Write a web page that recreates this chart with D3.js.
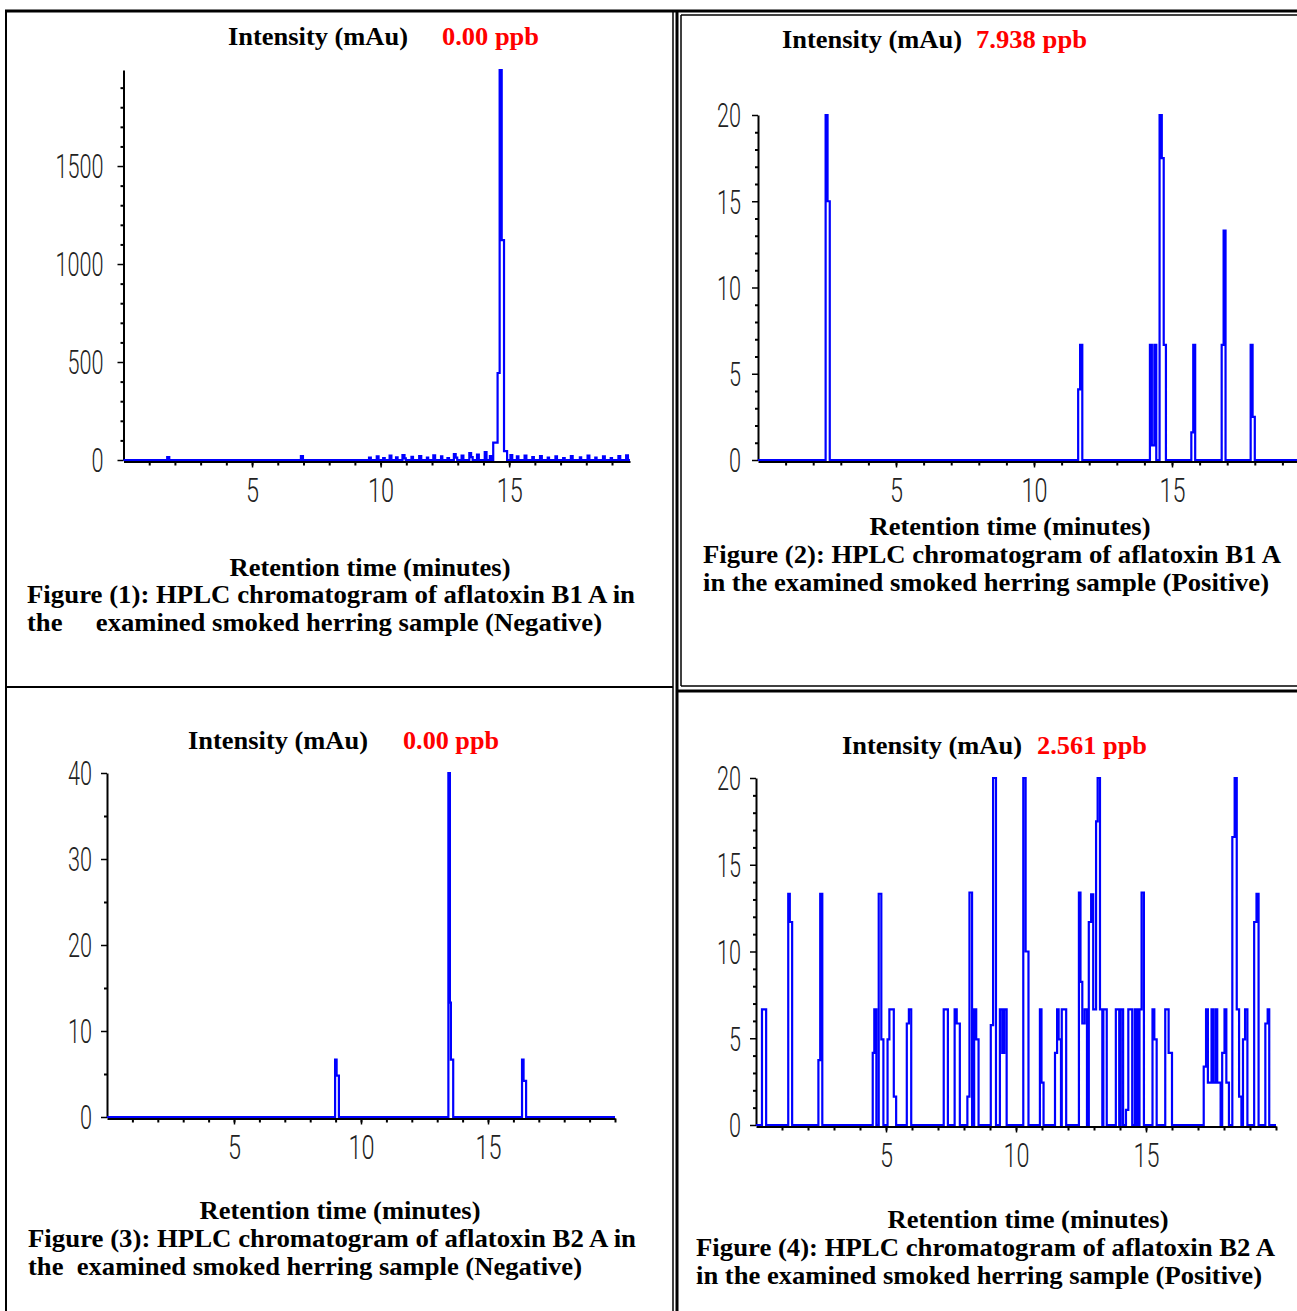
<!DOCTYPE html>
<html>
  <head>
    <meta charset="utf-8">
    <title>HPLC chromatograms of aflatoxin B1 / B2</title>
    <script src="https://d3js.org/d3.v7.min.js"></script>
    <style>
      body { margin: 0; background: #fff; }
      svg { display: block; }
      .serif { font-family: "Liberation Serif", "Times New Roman", serif; font-weight: bold; font-size: 25px; white-space: pre; }
      .tickText { font-family: Roboto, "DejaVu Sans", sans-serif; font-weight: 300; font-size: 34px; fill: #222; }
      .frame { stroke: #000; fill: none; }
    </style>
  </head>
  <body>
    <svg id="svg" width="1297" height="1311"></svg>
    <script>
      // ---- data: [retention time (min), intensity (mAu)]
      var fig1Data = [
        [0, 0], [1.70, 15], [1.78, 0], [6.90, 20], [6.98, 0],
        [9.55, 12], [9.62, 0], [9.85, 18], [9.92, 0], [10.10, 10], [10.16, 0],
        [10.35, 22], [10.42, 0], [10.60, 14], [10.66, 0], [10.85, 25], [10.93, 8], [10.98, 0],
        [11.20, 16], [11.26, 0], [11.50, 20], [11.58, 0], [11.80, 12], [11.85, 0],
        [12.05, 24], [12.12, 0], [12.35, 18], [12.40, 0], [12.60, 10], [12.66, 0],
        [12.85, 30], [12.92, 12], [12.98, 0], [13.15, 22], [13.22, 0],
        [13.45, 35], [13.52, 15], [13.58, 0], [13.75, 28], [13.82, 0],
        [14.05, 40], [14.12, 0], [14.25, 20], [14.30, 0],
        [14.38, 89], [14.55, 444], [14.63, 1990], [14.71, 1122], [14.80, 45], [14.92, 0],
        [15.05, 25], [15.12, 0], [15.30, 18], [15.36, 0], [15.60, 22], [15.67, 0],
        [15.90, 15], [15.96, 0], [16.20, 20], [16.27, 0], [16.50, 12], [16.55, 0],
        [16.80, 18], [16.86, 0], [17.10, 10], [17.16, 0], [17.40, 20], [17.47, 0],
        [17.75, 14], [17.80, 0], [18.05, 22], [18.12, 0], [18.35, 12], [18.40, 0],
        [18.65, 18], [18.72, 0], [18.95, 10], [19.00, 0], [19.25, 20], [19.32, 0],
        [19.55, 24], [19.62, 0], [19.70, 0]
      ];
      var fig2Data = [
        [0, 0], [2.45, 20], [2.52, 15], [2.60, 0],
        [11.60, 4.1], [11.67, 6.67], [11.75, 0],
        [14.20, 6.67], [14.27, 0.85], [14.36, 6.67], [14.43, 0],
        [14.55, 20], [14.63, 17.5], [14.70, 6.67], [14.78, 0],
        [15.70, 1.6], [15.77, 6.67], [15.84, 0],
        [16.80, 6.67], [16.87, 13.3], [16.94, 0],
        [17.85, 6.67], [17.92, 2.5], [18.00, 0], [20, 0]
      ];
      var fig3Data = [
        [0, 0], [8.98, 6.67], [9.04, 4.8], [9.13, 0],
        [13.44, 40], [13.50, 13.3], [13.54, 6.67], [13.63, 0],
        [16.34, 6.67], [16.40, 4.2], [16.50, 0], [20, 0]
      ];
      var fig4Data = [
        [0, 0], [0.23, 6.67], [0.39, 0],
        [1.24, 13.33], [1.30, 11.7], [1.39, 0],
        [2.40, 3.74], [2.47, 13.33], [2.55, 0],
        [4.49, 4.16], [4.55, 6.67], [4.63, 0], [4.72, 13.33], [4.82, 4.93], [4.90, 0],
        [5.06, 4.93], [5.13, 6.67], [5.30, 1.63], [5.39, 0],
        [5.80, 5.85], [5.88, 6.67], [5.97, 0],
        [7.22, 6.67], [7.38, 0],
        [7.64, 6.67], [7.72, 5.85], [7.84, 0],
        [8.13, 1.63], [8.21, 13.4], [8.31, 0], [8.39, 6.67], [8.47, 4.93], [8.56, 0],
        [9.03, 5.76], [9.12, 20], [9.23, 0], [9.38, 6.67], [9.47, 4.16], [9.55, 6.67], [9.64, 0],
        [10.28, 20], [10.37, 10], [10.48, 0],
        [10.92, 6.67], [10.98, 2.44], [11.06, 0],
        [11.50, 4.16], [11.58, 6.67], [11.64, 4.93], [11.73, 0], [11.76, 6.67], [11.93, 0],
        [12.42, 13.4], [12.48, 8.25], [12.55, 5.85], [12.64, 6.67], [12.73, 0],
        [12.80, 11.7], [12.89, 13.3], [12.97, 6.67], [13.08, 17.5], [13.14, 20], [13.23, 6.67],
        [13.32, 0], [13.36, 6.67], [13.49, 0],
        [13.84, 6.67], [13.97, 0], [14.03, 6.67], [14.12, 0], [14.23, 0.87], [14.32, 6.67], [14.47, 0],
        [14.57, 6.67], [14.64, 0], [14.66, 6.67], [14.73, 0], [14.75, 6.67], [14.83, 13.4], [14.92, 0],
        [15.25, 6.67], [15.32, 4.93], [15.41, 0],
        [15.74, 6.67], [15.87, 4.16], [16.00, 0],
        [17.22, 3.36], [17.31, 6.67], [17.38, 2.44], [17.52, 6.67], [17.58, 2.44], [17.67, 6.67],
        [17.74, 2.44], [17.87, 0], [17.93, 4.16], [18.02, 6.67], [18.09, 2.44], [18.19, 0],
        [18.32, 16.6], [18.41, 20], [18.49, 6.67], [18.58, 1.63], [18.67, 0],
        [18.73, 4.93], [18.81, 6.67], [18.90, 0],
        [19.16, 11.7], [19.25, 13.33], [19.33, 0],
        [19.59, 5.85], [19.68, 6.67], [19.74, 0], [20, 0]
      ];
      // tick labels
      var xTicks = [5, 10, 15];
      var fig1YTicks = [0, 500, 1000, 1500];
      var fig2YTicks = [0, 5, 10, 15, 20];
      var fig3YTicks = [0, 10, 20, 30, 40];
      var fig4YTicks = [0, 5, 10, 15, 20];
      // texts
      var concentrations = ["0.00 ppb", "7.938 ppb", "0.00 ppb", "2.561 ppb"];
      var captions = [
        ["Figure (1): HPLC chromatogram of aflatoxin B1 A in", "the     examined smoked herring sample (Negative)"],
        ["Figure (2): HPLC chromatogram of aflatoxin B1 A", "in the examined smoked herring sample (Positive)"],
        ["Figure (3): HPLC chromatogram of aflatoxin B2 A in", "the  examined smoked herring sample (Negative)"],
        ["Figure (4): HPLC chromatogram of aflatoxin B2 A", "in the examined smoked herring sample (Positive)"]
      ];

      // ---- layout of the four panels
      var panels = [
        { data: fig1Data, yTicks: fig1YTicks, yMinor: 100, xMax: 19.7, yMax: 1990,
          x0: 123.5, x1: 630, yTop: 70, yBase: 460, labelGap: 20,
          titleX: 228, titleY: 45, concX: 442, concW: 97, rtX: 370, rtY: 576,
          capX: 27, capY: 603, capW: [608, 575] },
        { data: fig2Data, yTicks: fig2YTicks, yMinor: 1, xMax: 20, yMax: 20,
          x0: 758, x1: 1310, yTop: 115, yBase: 460, labelGap: 17,
          titleX: 782, titleY: 48, concX: 976, concW: 111, rtX: 1010, rtY: 535,
          capX: 703, capY: 563, capW: [578, 566] },
        { data: fig3Data, yTicks: fig3YTicks, yMinor: 5, xMax: 20, yMax: 40,
          x0: 107, x1: 615, yTop: 773, yBase: 1117, labelGap: 15,
          titleX: 188, titleY: 749, concX: 403, concW: 96, rtX: 340, rtY: 1219,
          capX: 28, capY: 1247, capW: [608, 554] },
        { data: fig4Data, yTicks: fig4YTicks, yMinor: 1, xMax: 20, yMax: 20,
          x0: 756, x1: 1276, yTop: 778, yBase: 1125, labelGap: 15,
          titleX: 842, titleY: 754, concX: 1037, concW: 110, rtX: 1028, rtY: 1228,
          capX: 696, capY: 1256, capW: [579, 566] }
      ];

      var svg = d3.select("#svg");

      // table frame
      var frame = svg.append("g");
      function seg(x1, y1, x2, y2, w) {
        frame.append("line").attr("class", "frame")
          .attr("x1", x1).attr("y1", y1).attr("x2", x2).attr("y2", y2)
          .attr("stroke-width", w);
      }
      seg(5, 11, 1297, 11, 3);
      seg(6, 11, 6, 1311, 2);
      seg(673, 11, 673, 1311, 1.5);
      seg(6, 687, 673, 687, 2);
      seg(677, 11, 677, 1311, 3);
      seg(681, 15, 681, 686, 1.5);
      seg(681, 15, 1297, 15, 1.5);
      seg(681, 686, 1297, 686, 1.5);
      seg(677, 691, 1297, 691, 3);

      // squeeze text to the width it has in the figure
      function fitText(sel, w) {
        sel.attr("textLength", w).attr("lengthAdjust", "spacingAndGlyphs");
      }

      panels.forEach(function(p, i) {
        var g = svg.append("g");
        var x = d3.scaleLinear().domain([0, p.xMax]).range([p.x0, p.x1]);
        var y = d3.scaleLinear().domain([0, p.yMax]).range([p.yBase, p.yTop]);

        // y axis: minor then major
        var yMinorVals = d3.range(0, p.yMax + 1e-6, p.yMinor).filter(function(v) { return p.yTicks.indexOf(v) < 0; });
        g.append("g").attr("transform", "translate(" + p.x0 + ",0)")
          .call(d3.axisLeft(y).tickValues(yMinorVals).tickSize(3).tickSizeOuter(0).tickFormat(""))
          .call(function(a) { a.select(".domain").remove(); a.selectAll("line").attr("stroke-width", 2); });
        var yAx = g.append("g").attr("transform", "translate(" + p.x0 + ",0)")
          .call(d3.axisLeft(y).tickValues(p.yTicks).tickSize(6).tickSizeOuter(0).tickFormat(d3.format("d")));
        yAx.attr("font-size", null).attr("font-family", null);
        yAx.select(".domain").attr("stroke-width", 2);
        yAx.selectAll("line").attr("stroke-width", 1.5);
        yAx.selectAll("text")
          .attr("class", "tickText")
          .attr("x", -p.labelGap).attr("dy", "0.35em")
          .each(function(d) { fitText(d3.select(this), String(d).length * 12); });

        // x axis
        g.append("g").attr("transform", "translate(0," + (p.yBase + 1.5) + ")")
          .call(d3.axisBottom(x).tickValues(d3.range(1, Math.floor(p.xMax) + 1)).tickSize(4).tickSizeOuter(0).tickFormat(""))
          .call(function(a) { a.select(".domain").remove(); a.selectAll("line").attr("stroke-width", 2); });
        var xAx = g.append("g").attr("transform", "translate(0," + (p.yBase + 1.5) + ")")
          .call(d3.axisBottom(x).tickValues(xTicks).tickSize(6).tickSizeOuter(0));
        xAx.attr("font-size", null).attr("font-family", null);
        xAx.select(".domain").attr("stroke-width", 2);
        xAx.selectAll("line").attr("stroke-width", 1.5);
        xAx.selectAll("text")
          .attr("class", "tickText")
          .attr("y", 29).attr("dy", "0.35em")
          .each(function(d) { fitText(d3.select(this), String(d).length * 13); });

        // chromatogram trace
        var line = d3.line()
          .curve(d3.curveStepAfter)
          .x(function(d) { return x(d[0]); })
          .y(function(d) { return y(d[1]); });
        g.append("path")
          .datum(p.data)
          .attr("d", line)
          .attr("fill", "none")
          .attr("stroke", "#0000ff")
          .attr("stroke-width", 2.2)
          .attr("stroke-linejoin", "miter");

        // texts
        fitText(g.append("text").attr("class", "serif").attr("x", p.titleX).attr("y", p.titleY)
          .text("Intensity (mAu)"), 180);
        fitText(g.append("text").attr("class", "serif").attr("x", p.concX).attr("y", p.titleY)
          .attr("fill", "#ff0000").text(concentrations[i]), p.concW);
        fitText(g.append("text").attr("class", "serif").attr("x", p.rtX).attr("y", p.rtY)
          .attr("text-anchor", "middle").text("Retention time (minutes)"), 281);
        captions[i].forEach(function(s, k) {
          fitText(g.append("text").attr("class", "serif").attr("x", p.capX).attr("y", p.capY + k * 28).text(s), p.capW[k]);
        });
      });
    </script>
  </body>
</html>
